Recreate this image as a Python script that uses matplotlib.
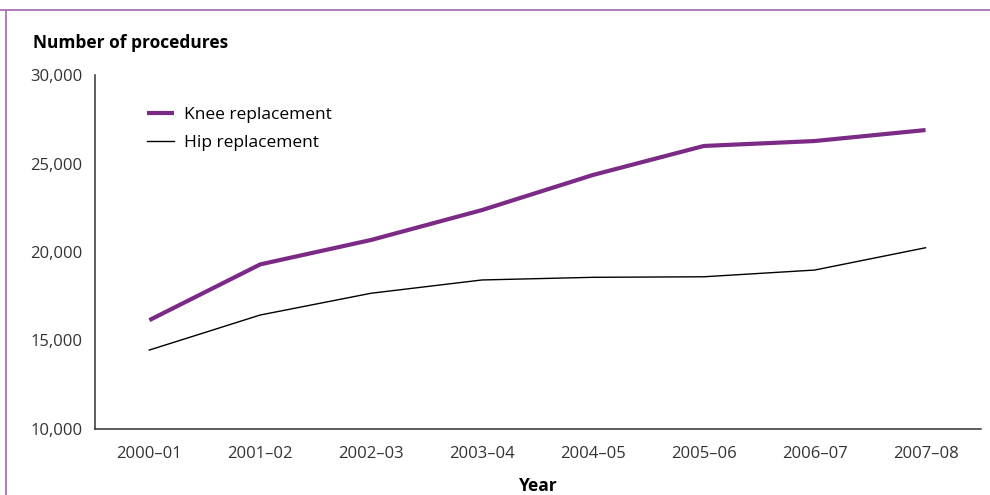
import matplotlib
matplotlib.use("Agg")
import matplotlib.pyplot as plt
from matplotlib.lines import Line2D

years = ["2000–01", "2001–02", "2002–03", "2003–04",
         "2004–05", "2005–06", "2006–07", "2007–08"]
knee = [16150, 19300, 20680, 22370, 24350, 25990, 26270, 26890]
hip = [14460, 16440, 17670, 18420, 18570, 18600, 18980, 20240]
yticks = [10000, 15000, 20000, 25000, 30000]

PURPLE = "#7b2a85"
FRAME = "#a773b5"
GREY = "#333333"

plt.rcParams["font.family"] = ["Open Sans", "DejaVu Sans"]

fig = plt.figure(figsize=(9.9, 4.95), dpi=100)
ax = fig.add_axes([95 / 990, 66 / 495, 886 / 990, 354 / 495])

x = range(len(years))
ax.plot(x, knee, color=PURPLE, lw=3.0, solid_capstyle="butt", label="Knee replacement")
ax.plot(x, hip, color="black", lw=1.0, label="Hip replacement")

ax.set_xlim(-0.49, 7.5)
ax.set_ylim(10000, 30000)
ax.set_yticks(yticks)
ax.set_yticklabels([f"{v:,}" for v in yticks])
ax.set_xticks(list(x))
ax.set_xticklabels(years)
ax.tick_params(length=0, labelsize=12, colors=GREY)
ax.tick_params(axis="y", pad=9)
ax.tick_params(axis="x", pad=12)

for s in ("top", "right"):
    ax.spines[s].set_visible(False)
for s in ("left", "bottom"):
    ax.spines[s].set_color(GREY)
    ax.spines[s].set_linewidth(1.1)

ax.set_xlabel("Year", fontsize=12.5, fontweight="bold", labelpad=11)
fig.text(33 / 990, 1 - 43 / 495, "Number of procedures", fontsize=12.5,
         fontweight="bold", va="center", ha="left")

leg = ax.legend(loc="upper left", bbox_to_anchor=(0.041, 0.955), frameon=False,
                fontsize=12.5, handlelength=1.55, handletextpad=0.6,
                labelspacing=0.68)

# purple frame on top and left edge
fig.add_artist(Line2D([0, 1], [1 - 10 / 495] * 2, color=FRAME, lw=1.3,
                      transform=fig.transFigure))
fig.add_artist(Line2D([6 / 990] * 2, [0, 1 - 10 / 495], color=FRAME, lw=1.3,
                      transform=fig.transFigure))

fig.savefig("out.png", dpi=100)
